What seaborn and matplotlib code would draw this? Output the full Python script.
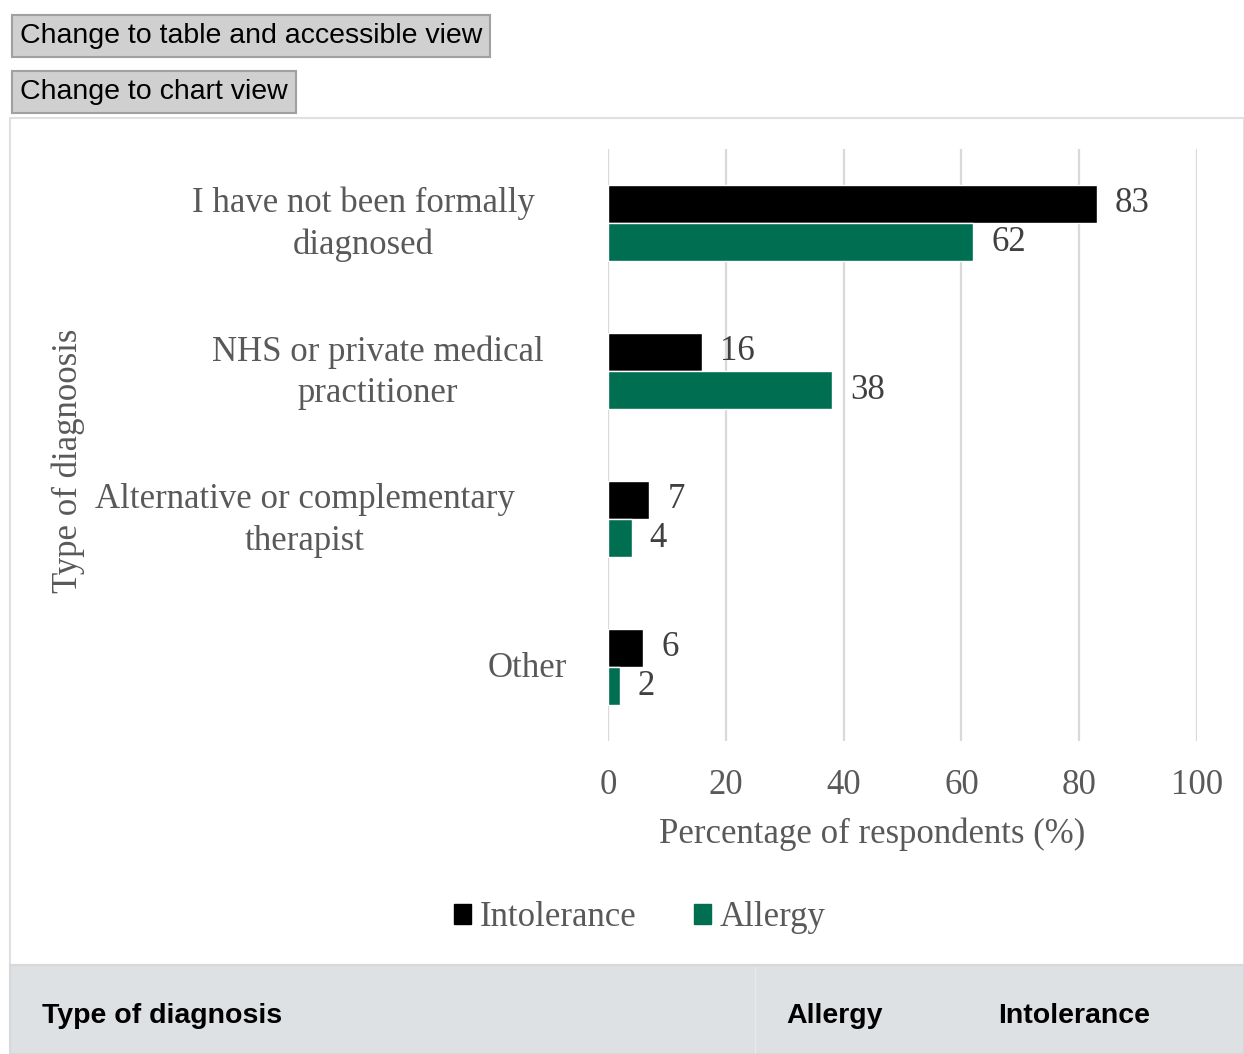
import matplotlib
matplotlib.use("Agg")
import matplotlib.pyplot as plt
from matplotlib.patches import Rectangle
from matplotlib.transforms import blended_transform_factory
import seaborn as sns
import pandas as pd

categories = ["I have not been formally\ndiagnosed",
              "NHS or private medical\npractitioner",
              "Alternative or complementary\ntherapist",
              "Other"]
intolerance = [83, 16, 7, 6]
allergy = [62, 38, 4, 2]
series = ["Intolerance", "Allergy"]
colours = {"Intolerance": "#000000", "Allergy": "#006E51"}
x_ticks = [0, 20, 40, 60, 80, 100]

df = pd.DataFrame({
    "category": categories * 2,
    "value": intolerance + allergy,
    "series": ["Intolerance"] * 4 + ["Allergy"] * 4,
})

sns.set_style("white")
plt.rcParams["font.family"] = ["Liberation Serif", "DejaVu Serif"]
grey = "#595959"
fs = 25

fig = plt.figure(figsize=(12.44, 10.54), dpi=100)
W, H = 1244, 1054
ax = fig.add_axes([608 / W, 1 - 741 / H, (1197 - 608) / W, (741 - 149) / H])

sns.barplot(data=df, y="category", x="value", hue="series", hue_order=series,
            palette=colours, orient="h", width=0.52, ax=ax, legend=False,
            saturation=1)

for cont in ax.containers:
    ax.bar_label(cont, padding=13, fontsize=fs, color="#404040")

ax.set_xlim(0, 100)
ax.set_xticks(x_ticks)
ax.set_xlabel("")
ax.set_ylabel("")
ax.grid(axis="x", color="#d9d9d9", linewidth=1.6)
ax.set_axisbelow(True)
for s in ax.spines.values():
    s.set_visible(False)
ax.tick_params(axis="x", length=0, pad=20, labelsize=fs, labelcolor=grey)
ax.tick_params(axis="y", length=0, labelleft=False)

# category labels, wrapped and centred like the original
label_x = [363, 378, 305, 527]
tr = blended_transform_factory(fig.transFigure, ax.transData)
for i, (cat, lx) in enumerate(zip(categories, label_x)):
    ax.text(lx / W, i + 0.01, cat, transform=tr, fontsize=fs, color=grey,
            ha="center", va="center", multialignment="center", linespacing=1.33)

fig.text(872 / W, 1 - 834 / H, "Percentage of respondents (%)", fontsize=fs,
         color=grey, ha="center", va="center")
fig.text(68 / W, 1 - 461 / H, "Type of diagnoosis", fontsize=fs, color=grey,
         rotation=90, ha="center", va="center")

# legend
handles = [Rectangle((0, 0), 1, 1, color=colours[s]) for s in series]
fig.legend(handles, series, loc="center", bbox_to_anchor=(640 / W, 1 - 918 / H),
           ncol=2, frameon=False, fontsize=fs, labelcolor=grey,
           handlelength=0.5, handleheight=0.5, handletextpad=0.25,
           columnspacing=1.65)

# chart frame and page chrome
fig.patches.append(Rectangle((10 / W, 1 - 965 / H), (W - 10) / W, (965 - 118) / H,
                             transform=fig.transFigure, fill=False,
                             edgecolor="#e0e0e0", linewidth=1.5))
fig.patches.append(Rectangle((10 / W, 0), (W - 10) / W, (1054 - 965) / H,
                             transform=fig.transFigure, facecolor="#dee1e4",
                             edgecolor="#d8d8d8", linewidth=1.5))
fig.add_artist(plt.Line2D([755 / W, 755 / W], [0, (1054 - 967) / H],
                          color="#e8eaec", linewidth=1))
sans = ["Liberation Sans", "DejaVu Sans"]
for x, t in [(42, "Type of diagnosis"), (786, "Allergy"), (998, "Intolerance")]:
    fig.text(x / W, 1 - 1016 / H, t, family=sans, fontsize=20.5,
             fontweight="bold", color="black", va="center")

btn = dict(boxstyle="square,pad=0.28", facecolor="#d0d0d0", edgecolor="#a0a0a0",
           linewidth=1.5)
fig.text(20 / W, 1 - 36 / H, "Change to table and accessible view", family=sans,
         fontsize=20.5, color="black", va="center", bbox=btn)
fig.text(20 / W, 1 - 92 / H, "Change to chart view", family=sans,
         fontsize=20.5, color="black", va="center", bbox=btn)

fig.savefig("out.png", dpi=100)
